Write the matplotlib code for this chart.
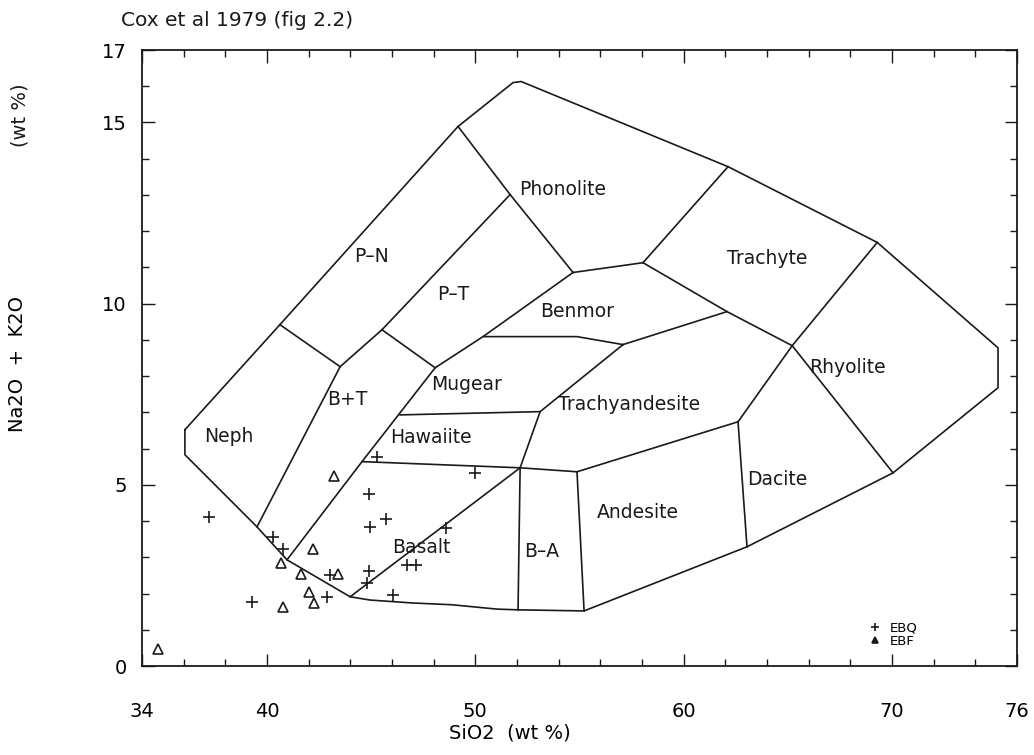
import matplotlib
matplotlib.use("Agg")
import matplotlib.pyplot as plt
from matplotlib.ticker import MultipleLocator, FixedLocator

plt.rcParams["font.family"] = ["DejaVu Sans"]

# --- field vertices (SiO2 wt%, Na2O+K2O wt%) ---
A = (36.06, 6.52); B = (36.06, 5.83); C = (39.52, 3.84); D = (40.96, 2.93)
E = (43.99, 1.91); F1 = (44.95, 1.82); F2 = (46.96, 1.74); F3 = (48.88, 1.69)
F4 = (51.04, 1.57); F5 = (52.05, 1.55); F6 = (55.22, 1.52)
G = (63.04, 3.29); H = (70.05, 5.33); I = (75.09, 7.68); J = (75.09, 8.78)
K = (69.29, 11.69); L = (62.13, 13.78); M = (52.20, 16.13); N = (51.81, 16.10)
O = (49.17, 14.89); P = (40.62, 9.42)
Q = (43.51, 8.26); R = (51.67, 13.01); S = (45.52, 9.28); T = (54.69, 10.86)
U = (48.07, 8.23); V = (50.37, 9.09); W = (44.56, 5.64); X = (54.88, 9.09)
Y = (57.09, 8.87); Z = (58.05, 11.13); AA = (62.08, 9.78); BB = (65.21, 8.84)
CC = (62.61, 6.74); DD = (53.11, 7.02); EE = (52.15, 5.47); FF = (46.39, 6.93)
GG = (54.88, 5.36)

outline = [A, P, O, N, M, L, K, J, I, H, G, F6, F5, F4, F3, F2, F1, E, D, C, B, A]
boundaries = [
    [P, Q], [R, S, Q, C], [O, R, T], [S, U], [T, V, U, W, D],
    [V, X, Y], [T, Z], [L, Z], [Z, AA, BB, H], [K, BB, CC], [Y, AA],
    [Y, DD, EE], [FF, DD], [W, EE], [EE, F5], [EE, GG], [GG, F6],
    [GG, CC], [CC, G], [E, EE],
]

field_names = ["Neph", "B+T", "P–N", "P–T", "Phonolite", "Benmor", "Trachyte",
               "Mugear", "Hawaiite", "Trachyandesite", "Rhyolite", "Basalt",
               "B–A", "Andesite", "Dacite"]
field_x = [38.18, 43.84, 45.04, 48.93, 54.21, 54.88, 64.00,
           49.60, 47.87, 57.38, 67.85, 47.39, 53.20, 57.81, 64.48]
field_y = [6.33, 7.35, 11.30, 10.25, 13.15, 9.78, 11.24,
           7.76, 6.30, 7.21, 8.23, 3.26, 3.15, 4.23, 5.14]

# --- samples ---
ebq_sio2 = [37.22, 40.29, 40.77, 39.28, 42.88, 43.03, 44.90, 44.95, 45.71,
            44.90, 44.80, 46.05, 46.72, 47.15, 48.59, 49.99, 45.28]
ebq_alk = [4.12, 3.56, 3.23, 1.77, 1.91, 2.51, 4.75, 3.84, 4.06,
           2.62, 2.29, 1.96, 2.79, 2.79, 3.81, 5.33, 5.77]
ebf_sio2 = [43.22, 42.21, 40.67, 41.63, 43.41, 42.02, 42.26, 40.77, 34.77]
ebf_alk = [5.25, 3.23, 2.85, 2.54, 2.54, 2.04, 1.74, 1.63, 0.47]

fig = plt.figure(figsize=(10.34, 7.55), dpi=100)
ax = fig.add_axes([142 / 1034, 89 / 755, 875 / 1034, 616 / 755])

ink = "#1a1a1a"
ax.plot([p[0] for p in outline], [p[1] for p in outline], color=ink, lw=1.2)
for line in boundaries:
    ax.plot([p[0] for p in line], [p[1] for p in line], color=ink, lw=1.2)

for name, x, y in zip(field_names, field_x, field_y):
    ax.text(x, y, name, ha="center", va="center", fontsize=13.5, color=ink)

ax.plot(ebq_sio2, ebq_alk, ls="none", marker="+", ms=9, mew=1.2,
        color=ink, label="EBQ")
ax.plot(ebf_sio2, ebf_alk, ls="none", marker="^", ms=7, mew=1.2,
        mfc="none", color=ink, label="EBF")

ax.set_xlim(34, 76)
ax.set_ylim(0, 17)
ax.xaxis.set_major_locator(FixedLocator([34, 40, 50, 60, 70, 76]))
ax.xaxis.set_minor_locator(FixedLocator([36, 38, 42, 44, 46, 48, 52, 54, 56, 58,
                                         62, 64, 66, 68, 72, 74]))
ax.yaxis.set_major_locator(FixedLocator([0, 5, 10, 15, 17]))
ax.yaxis.set_minor_locator(MultipleLocator(1))
ax.tick_params(which="both", direction="in", top=True, right=True,
               color=ink, width=1.0)
ax.tick_params(which="major", length=9, labelsize=14)
ax.tick_params(which="minor", length=5)
ax.tick_params(axis="x", pad=26)
ax.tick_params(axis="y", pad=11)
for s in ax.spines.values():
    s.set_linewidth(1.3)
    s.set_color(ink)

ax.set_xlabel("SiO2  (wt %)", fontsize=14)
ax.xaxis.set_label_coords(0.42, -0.093)
ax.set_ylabel("Na2O  +  K2O", fontsize=14)
ax.yaxis.set_label_coords(-0.131, 0.49)
fig.text(20 / 1034, 1 - 115 / 755, "(wt %)", rotation=90, fontsize=14,
         ha="center", va="center", color=ink)

leg = ax.legend(loc="lower right", bbox_to_anchor=(0.9, 0.01), frameon=False,
                fontsize=9.5, handlelength=1.0, handletextpad=0.6,
                labelspacing=0.0, markerscale=0.6)
leg.legend_handles[1].set_markerfacecolor(ink)

fig.text(121 / 1034, 1 - 21 / 755, "Cox et al 1979 (fig 2.2)", fontsize=14.5,
         ha="left", va="center", color=ink)

fig.savefig("out.png", dpi=100)
